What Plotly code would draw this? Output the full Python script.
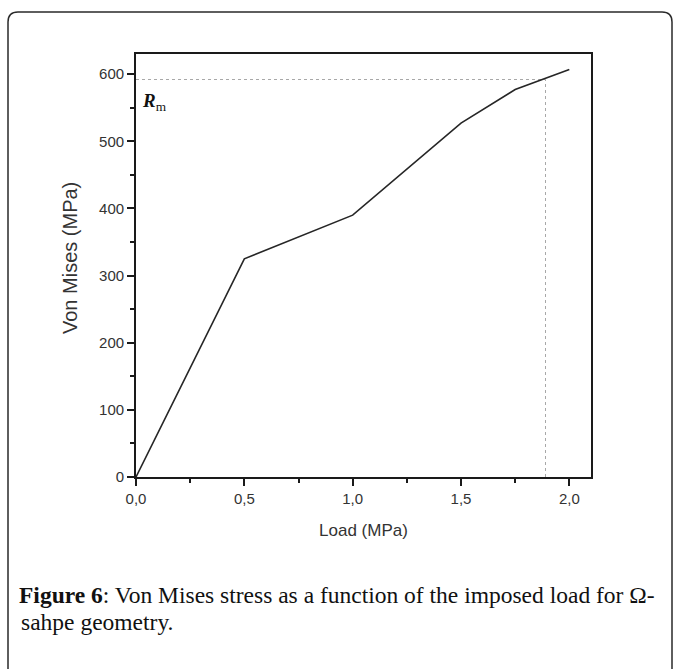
import plotly.graph_objects as go

# ---- data ----
load = [0.0, 0.5, 1.0, 1.5, 1.75, 2.0]
stress = [0, 325, 390, 527, 577, 607]
rm_value = 592
rm_load = 1.89
x_ticks = [0.0, 0.5, 1.0, 1.5, 2.0]
y_ticks = [0, 100, 200, 300, 400, 500, 600]
x_title = "Load (MPa)"
y_title = "Von Mises (MPa)"
caption_1 = "<b>Figure 6</b>: Von Mises stress as a function of the imposed load for Ω-"
caption_2 = "sahpe geometry."

W, H = 680, 669
L, R, T, B = 136, 89, 54, 192
PW, PH = W - L - R, H - T - B


def px(xp):
    return (xp - L) / PW


def py(yp):
    return (H - B - yp) / PH


fig = go.Figure()

# reference dotted lines
fig.add_trace(go.Scatter(x=[0, rm_load], y=[rm_value, rm_value], mode="lines",
                         line=dict(color="#a8a8a8", width=1, dash="dot"),
                         hoverinfo="skip", showlegend=False))
fig.add_trace(go.Scatter(x=[rm_load, rm_load], y=[0, rm_value], mode="lines",
                         line=dict(color="#a8a8a8", width=1, dash="dot"),
                         hoverinfo="skip", showlegend=False))
# main curve
fig.add_trace(go.Scatter(x=load, y=stress, mode="lines",
                         line=dict(color="#262626", width=1.6),
                         showlegend=False))

axis_common = dict(
    showline=True, linecolor="#1a1a1a", linewidth=1.8, mirror=True,
    ticks="outside", ticklen=7, tickwidth=1.5, tickcolor="#1a1a1a",
    showgrid=False, zeroline=False,
    tickfont=dict(family="Liberation Sans, Arial", size=15, color="#333333"),
    title_font=dict(family="Liberation Sans, Arial", size=17, color="#333333"),
)

fig.update_xaxes(range=[0, 2.1], tickvals=x_ticks, tickformat=".1f",
                 minor=dict(ticks="outside", ticklen=4, tickwidth=1.5,
                            tickcolor="#1a1a1a", dtick=0.25, showgrid=False),
                 title=dict(text=x_title, standoff=18), **axis_common)
fig.update_yaxes(range=[0, 630], tickvals=y_ticks,
                 minor=dict(ticks="outside", ticklen=4, tickwidth=1.5,
                            tickcolor="#1a1a1a", dtick=50, showgrid=False),
                 **axis_common)

# y axis title
fig.add_annotation(x=px(70), y=py(258), xref="paper", yref="paper",
                   xanchor="center", yanchor="middle", textangle=-90,
                   showarrow=False, text=y_title,
                   font=dict(family="Liberation Sans, Arial", size=20,
                             color="#333333"))

# R_m label
fig.add_annotation(x=0.02, y=558, xref="x", yref="y", xanchor="left",
                   yanchor="middle", showarrow=False,
                   text="<b><i>R</i></b><sub>m</sub>",
                   font=dict(family="Liberation Serif, Times New Roman", size=19,
                             color="#111111"))

# caption
cap_font = dict(family="Liberation Serif, Times New Roman", size=23.5,
                color="#111111")
fig.add_annotation(x=px(17), y=py(595), xref="paper", yref="paper",
                   xanchor="left", yanchor="middle", align="left",
                   showarrow=False, text=caption_1, font=cap_font)
fig.add_annotation(x=px(19), y=py(622), xref="paper", yref="paper",
                   xanchor="left", yanchor="middle", align="left",
                   showarrow=False, text=caption_2, font=cap_font)

# rounded outer frame (continues past the bottom edge of the picture)
x0, y0, x1, y1, r = px(8), py(12), px(672), py(690), 10
rx, ry = r / PW, r / PH
path = (f"M {x0+rx},{y0} L {x1-rx},{y0} Q {x1},{y0} {x1},{y0-ry} "
        f"L {x1},{y1+ry} Q {x1},{y1} {x1-rx},{y1} "
        f"L {x0+rx},{y1} Q {x0},{y1} {x0},{y1+ry} "
        f"L {x0},{y0-ry} Q {x0},{y0} {x0+rx},{y0} Z")
fig.add_shape(type="path", path=path, xref="paper", yref="paper",
              line=dict(color="#2a2a2a", width=1.5), layer="below")

fig.update_layout(
    width=W, height=H, margin=dict(l=L, r=R, t=T, b=B, autoexpand=False),
    paper_bgcolor="white", plot_bgcolor="white", separators=",.",
    showlegend=False,
)

fig.write_html("out.html")
